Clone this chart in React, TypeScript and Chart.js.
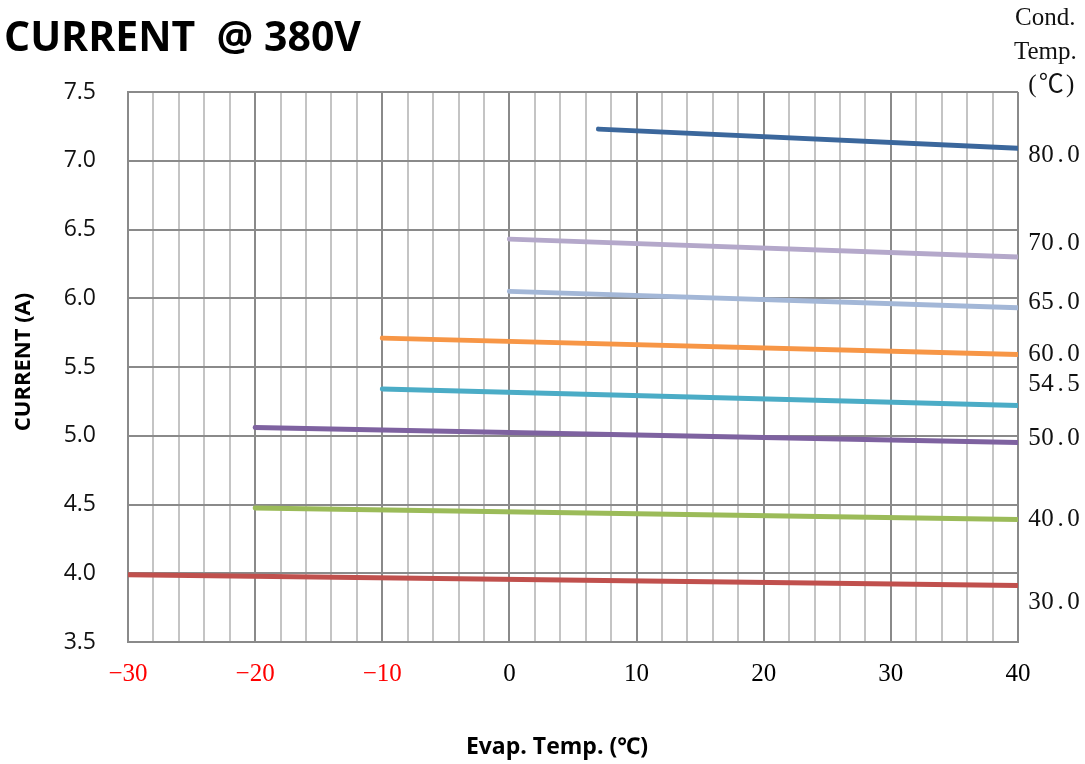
import React, { useEffect, useRef } from "react";
import { Chart, registerables } from "chart.js";

Chart.register(...registerables);

// Condenser temperatures (series names), shown as labels at the right
const condTemps = ["80.0", "70.0", "65.0", "60.0", "54.5", "50.0", "40.0", "30.0"];
// Evaporating temperature at the start and end of each curve (°C)
const evapStart = [7, 0, 0, -10, -10, -20, -20, -30];
const evapEnd = [40, 40, 40, 40, 40, 40, 40, 40];
// Current (A) at the start and end of each curve
const currentStart = [7.23, 6.43, 6.05, 5.71, 5.34, 5.06, 4.475, 3.99];
const currentEnd = [7.09, 6.3, 5.93, 5.59, 5.22, 4.95, 4.39, 3.91];
// Current value at which each right-hand label sits
const labelCurrent = [7.04, 6.4, 5.97, 5.59, 5.37, 4.98, 4.39, 3.785];
const seriesColors = ["#3B679C", "#B4A8CA", "#A3B7D7", "#F79646", "#4BACC6", "#7E62A0", "#9BBB59", "#C0504D"];

const titleText = "CURRENT  @ 380V";
const yTitle = "CURRENT (A)";
const xTitle = "Evap. Temp. (℃)";
const condHeader = ["Cond.", "Temp.", "(℃)"];

const SERIF = "'Liberation Serif', 'Noto Sans CJK SC', serif";
const SANS = "'Open Sans', 'Noto Sans', sans-serif";

function drawCells(ctx: CanvasRenderingContext2D, text: string, x: number, y: number, half: number) {
  let cx = x;
  for (const ch of text) {
    const w = ch.charCodeAt(0) > 0x2000 ? half * 2 : half;
    ctx.fillText(ch, cx + w / 2, y);
    cx += w;
  }
}

const textPlugin = {
  id: "textPlugin",
  afterDraw(chart: any) {
    const ctx = chart.ctx as CanvasRenderingContext2D;
    const yScale = chart.scales.y;
    ctx.save();
    ctx.fillStyle = "#000";
    // main title
    ctx.font = `bold 41px ${SANS}`;
    ctx.textAlign = "left";
    ctx.textBaseline = "middle";
    ctx.fillText(titleText, 4, 39);
    // x title
    ctx.font = `bold 23px ${SANS}`;
    ctx.textAlign = "center";
    ctx.fillText(xTitle, 557, 747);
    // y title
    ctx.font = `bold 22px ${SANS}`;
    ctx.save();
    ctx.translate(24, 362);
    ctx.rotate(-Math.PI / 2);
    ctx.fillText(yTitle, 0, 0);
    ctx.restore();
    // right header
    ctx.font = `25px ${SERIF}`;
    ctx.fillStyle = "#111";
    ctx.textAlign = "left";
    ctx.fillText(condHeader[0], 1015, 18);
    ctx.fillText(condHeader[1], 1014, 52);
    ctx.textAlign = "center";
    drawCells(ctx, condHeader[2], 1026, 85, 12.6);
    // right labels
    condTemps.forEach((t, i) => {
      const py = yScale.getPixelForValue(labelCurrent[i]);
      drawCells(ctx, t, 1028, py, 13);
    });
    ctx.restore();
  },
};

export default function App() {
  const ref = useRef<HTMLCanvasElement | null>(null);
  useEffect(() => {
    if (!ref.current) return;
    const datasets = condTemps.map((t, i) => ({
      label: t,
      data: [
        { x: evapStart[i], y: currentStart[i] },
        { x: evapEnd[i], y: currentEnd[i] },
      ],
      borderColor: seriesColors[i],
      backgroundColor: seriesColors[i],
      borderWidth: 5,
      borderCapStyle: "round" as const,
      pointRadius: 0,
      tension: 0,
      clip: 0,
    }));
    const chart = new Chart(ref.current, {
      type: "line",
      data: { datasets },
      plugins: [textPlugin],
      options: {
        animation: false,
        responsive: false,
        devicePixelRatio: 1,
        layout: { padding: { top: 92, right: 67, left: 0, bottom: 0 } },
        plugins: { legend: { display: false }, tooltip: { enabled: false }, title: { display: false } },
        scales: {
          x: {
            type: "linear",
            min: -30,
            max: 40,
            afterFit: (s: any) => {
              s.height = 122;
            },
            afterBuildTicks: (s: any) => {
              const ticks = [];
              for (let v = -30; v <= 40; v += 2) ticks.push({ value: v });
              s.ticks = ticks;
            },
            ticks: {
              autoSkip: false,
              maxRotation: 0,
              padding: 17,
              font: { family: SERIF, size: 25 },
              color: (c: any) => (c.tick && c.tick.value < 0 ? "#FF0000" : "#000000"),
              callback: (v: any) => {
                const n = Number(v);
                if (n % 10 !== 0) return "";
                return n < 0 ? "\u2212" + Math.abs(n) : String(n);
              },
            },
            grid: {
              drawTicks: false,
              lineWidth: 2,
              color: (c: any) => (c.tick && c.tick.value % 10 === 0 ? "#8A8A8A" : "#C4C4C4"),
            },
            border: { color: "#8A8A8A", width: 2 },
          },
          y: {
            type: "linear",
            min: 3.5,
            max: 7.5,
            afterFit: (s: any) => {
              s.width = 128;
            },
            ticks: {
              stepSize: 0.5,
              padding: 32,
              font: { family: SANS, size: 23 },
              color: "#111",
              callback: (v: any) => Number(v).toFixed(1),
            },
            grid: { drawTicks: false, lineWidth: 2, color: "#8A8A8A" },
            border: { color: "#8A8A8A", width: 2 },
          },
        },
      },
    });
    return () => chart.destroy();
  }, []);
  return (
    <div style={{ position: "absolute", left: 0, top: 0, width: 1085, height: 764, background: "#fff" }}>
      <canvas ref={ref} width={1085} height={764} />
    </div>
  );
}
